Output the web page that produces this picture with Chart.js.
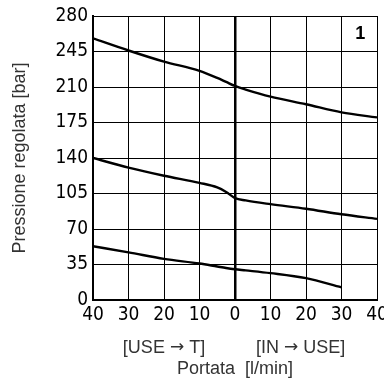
<!DOCTYPE html>
<html>
<head>
<meta charset="utf-8">
<script src="https://cdn.jsdelivr.net/npm/chart.js@4/dist/chart.umd.min.js"></script>
<style>
    html, body { margin: 0; padding: 0; background: #fff; }
    #wrap { width: 384px; height: 385px; }
</style>
</head>
<body>
<div id="wrap"><canvas id="pressure-chart"></canvas></div>
<script>
// Portata [l/min]: negative side is USE -> T, positive side is IN -> USE
const flow = [-40, -30, -20, -10, -5, -2.5, 0, 3, 10, 20, 30, 40];

// Pressione regolata [bar] for the three settings
const highCurve = [258, 246, 235, 226, 219, 215, 211, 207.5, 200.5, 193, 185, 180];
const midCurve  = [140, 130.5, 122.5, 115.5, 111, 106.5, 100.5, 98.2, 94.5, 90, 84.5, 80];
const lowCurve  = [53, 47, 40.5, 36, 33, 31.5, 30.3, 29.2, 26.5, 21.5, 12.5, null];

const yTicks = [0, 35, 70, 105, 140, 175, 210, 245, 280];
const xTicks = [-40, -30, -20, -10, 0, 10, 20, 30, 40];

const tickFont = { family: "'Liberation Sans Narrow', 'DejaVu Sans Condensed', sans-serif", size: 19 };
const labelFont = { family: "'Liberation Sans', Arial, sans-serif", size: 18 };
const arrowFont = "17px 'DejaVu Sans', sans-serif";

function toPoints(values) {
    const pts = [];
    for (let i = 0; i < flow.length; i++) {
        if (values[i] !== null) pts.push({ x: flow[i], y: values[i] });
    }
    return pts;
}

function curve(values) {
    return {
        data: toPoints(values),
        borderColor: '#000',
        borderWidth: 2.4,
        pointRadius: 0,
        fill: false,
        cubicInterpolationMode: 'monotone'
    };
}

// text with a long arrow in the middle, centered on cx
function arrowLabel(ctx, left, right, cx, y) {
    const textFont = labelFont.size + 'px ' + labelFont.family;
    ctx.font = textFont;
    const w1 = ctx.measureText(left).width;
    const w3 = ctx.measureText(right).width;
    ctx.font = arrowFont;
    const w2 = ctx.measureText('\u2192').width;
    let x = cx - (w1 + w2 + w3) / 2;
    ctx.textAlign = 'left';
    ctx.font = textFont;
    ctx.fillText(left, x, y);
    x += w1;
    ctx.font = arrowFont;
    ctx.fillText('\u2192', x, y - 1);
    x += w2;
    ctx.font = textFont;
    ctx.fillText(right, x, y);
}

// direction labels under the axis and the panel number
const extraText = {
    id: 'extraText',
    afterDraw(chart) {
        const ctx = chart.ctx;
        const x = chart.scales.x;
        ctx.save();
        ctx.fillStyle = '#333';
        ctx.textBaseline = 'alphabetic';
        arrowLabel(ctx, '[USE ', ' T]', x.getPixelForValue(-20), 353);
        arrowLabel(ctx, '[IN ', ' USE]', x.getPixelForValue(18.5), 353);

        ctx.fillStyle = '#000';
        ctx.textAlign = 'center';
        ctx.font = 'bold 18px ' + labelFont.family;
        ctx.fillText('1', x.getPixelForValue(35.3), 39);
        ctx.restore();
    }
};

new Chart(document.getElementById('pressure-chart'), {
    type: 'line',
    data: {
        datasets: [curve(highCurve), curve(midCurve), curve(lowCurve)]
    },
    options: {
        responsive: true,
        maintainAspectRatio: false,
        animation: false,
        layout: { padding: { left: 0, right: 7, top: 16, bottom: 0 } },
        plugins: {
            legend: { display: false },
            tooltip: { enabled: false }
        },
        scales: {
            x: {
                type: 'linear',
                min: -40,
                max: 40,
                afterBuildTicks: function(scale) {
                    scale.ticks = xTicks.map(v => ({ value: v }));
                },
                afterFit: function(scale) {
                    scale.height = 85;
                    scale.paddingLeft = 0;
                    scale.paddingRight = 0;
                },
                grid: {
                    color: '#000',
                    lineWidth: ctx => (ctx.tick && ctx.tick.value === 0) ? 2.5 : 1,
                    drawTicks: false
                },
                border: { color: '#000', width: 2 },
                ticks: {
                    autoSkip: false,
                    maxRotation: 0,
                    padding: 4,
                    color: '#000',
                    font: tickFont,
                    callback: value => String(Math.abs(value))
                },
                title: {
                    display: true,
                    text: 'Portata  [l/min]',
                    color: '#333',
                    font: labelFont,
                    padding: { top: 0, bottom: 5 }
                }
            },
            y: {
                min: 0,
                max: 280,
                afterBuildTicks: function(scale) {
                    scale.ticks = yTicks.map(v => ({ value: v }));
                },
                afterFit: function(scale) {
                    scale.width = 93;
                    scale.paddingTop = 0;
                    scale.paddingBottom = 0;
                },
                grid: {
                    color: '#000',
                    lineWidth: 1,
                    drawTicks: false
                },
                border: { color: '#000', width: 2 },
                ticks: {
                    padding: 5,
                    color: '#000',
                    font: tickFont
                },
                title: {
                    display: true,
                    text: 'Pressione regolata [bar]',
                    color: '#333',
                    font: labelFont,
                    padding: { top: 9, bottom: 0 }
                }
            }
        }
    },
    plugins: [extraText]
});
</script>
</body>
</html>
